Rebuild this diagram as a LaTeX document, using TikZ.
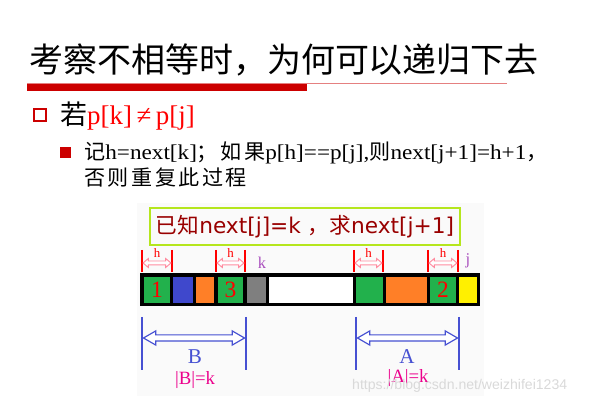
\documentclass[tikz,border=0pt]{standalone}
\usepackage{fontspec}
\setmainfont{Liberation Serif}
\newfontfamily\cjk{Noto Sans CJK SC}
\newfontfamily\cjkwide[LetterSpace=12]{Noto Sans CJK SC}
\newfontfamily\subserif[FakeStretch=1.1]{Liberation Serif}
\newfontfamily\boxfont{DejaVu Sans}
\newfontfamily\markfont{Liberation Sans}
\usetikzlibrary{shapes.arrows, calc}

\definecolor{titlered}{RGB}{204,0,0}
\definecolor{cellgreen}{RGB}{34,177,76}
\definecolor{cellblue}{RGB}{63,72,204}
\definecolor{cellorange}{RGB}{255,127,39}
\definecolor{cellgray}{RGB}{127,127,127}
\definecolor{cellyellow}{RGB}{255,240,0}
\definecolor{boxgreen}{RGB}{181,230,29}
\definecolor{darkred}{RGB}{153,0,0}
\definecolor{hpink}{RGB}{255,140,160}
\definecolor{kpurple}{RGB}{170,80,190}
\definecolor{spanblue}{RGB}{70,80,210}

\begin{document}
\begin{tikzpicture}[x=0.03cm, y=-0.03cm,
  % Text styles
  title/.style={font=\cjk\fontsize{29}{32}\selectfont, anchor=west, inner sep=0pt},
  bodytext/.style={font=\fontsize{23}{26}\selectfont, anchor=west, inner sep=0pt},
  subtext/.style={font=\subserif\fontsize{18}{22}\selectfont, anchor=north west, inner sep=0pt, align=left},
  % Cell styles
  cell/.style={rectangle, inner sep=0pt, minimum height=26*0.03cm,
    font=\fontsize{20}{20}\selectfont, text=red},
  % Marker styles
  htick/.style={draw=red, line width=1pt},
  harrow/.style={double arrow, draw=hpink, fill=white, line width=0.8pt,
    inner xsep=0pt, inner ysep=1.5*0.03cm, double arrow head extend=2.5*0.03cm,
    double arrow tip angle=80},
  hlbl/.style={font=\fontsize{11}{11}\selectfont, text=red, inner sep=0pt},
  spantick/.style={draw=spanblue, line width=1.2pt},
  spanarrow/.style={double arrow, draw=spanblue, fill=white, line width=1pt,
    inner xsep=0pt, inner ysep=2.5*0.03cm, double arrow head extend=4*0.03cm,
    double arrow tip angle=60},
  spanlbl/.style={font=\fontsize{18}{18}\selectfont, text=spanblue, inner sep=0pt},
  sizelbl/.style={font=\fontsize{16}{16}\selectfont, text=magenta, inner sep=0pt},
]
\useasboundingbox (0,0) rectangle (607,402);

% Title
\node[title] (title) at (29,60) {考察不相等时，为何可以递归下去};
\draw[titlered!50, line width=0.7pt] (27,83.5) -- (507,83.5);
\fill[titlered] (27,84) rectangle (307,91.5);

% First bullet
\node[draw=titlered, line width=1.8pt, minimum size=12*0.03cm, inner sep=0pt] (b1) at (40,115) {};
\node[bodytext] (cond) at (60,116) {{\cjk 若}\textcolor{red}{p[k]\,≠\,p[j]}};

% Second bullet
\node[fill=titlered, minimum size=11*0.03cm, inner sep=0pt] (b2) at (65.5,153) {};
\node[subtext] (rule) at (84,142)
  {{\cjkwide 记}h=next[k]{\cjkwide ；如果}p[h]==p[j],{\cjkwide 则}next[j+1]=h+1{\cjkwide ，}\\
   {\cjkwide 否则重复此过程}};

% Light panel behind the figure
\fill[gray!4] (137,203) rectangle (484,396);

% Known / wanted box
\node[draw=boxgreen, line width=1.6pt, minimum width=310*0.03cm, minimum height=37*0.03cm,
  text=darkred, font=\fontsize{18.5}{18.5}\selectfont] (given) at (305,226.5)
  {{\cjk 已知}{\boxfont next[j]=k }{\cjk ，求}{\boxfont next[j+1]}};

% String p
\fill[black] (140,273.5) rectangle (480,306.5);
\node[cell, fill=cellgreen, minimum width=26*0.03cm] (c1) at (157,290) {1};
\node[cell, fill=cellblue, minimum width=20*0.03cm] (c2) at (183,290) {};
\node[cell, fill=cellorange, minimum width=18*0.03cm] (c3) at (205,290) {};
\node[cell, fill=cellgreen, minimum width=25*0.03cm] (c4) at (230.5,290) {3};
\node[cell, fill=cellgray, minimum width=19*0.03cm] (c5) at (256.5,290) {};
\node[cell, fill=white, minimum width=84*0.03cm] (c6) at (311,290) {};
\node[cell, fill=cellgreen, minimum width=27*0.03cm] (c7) at (369.5,290) {};
\node[cell, fill=cellorange, minimum width=41*0.03cm] (c8) at (406.5,290) {};
\node[cell, fill=cellgreen, minimum width=26*0.03cm] (c9) at (443,290) {2};
\node[cell, fill=cellyellow, minimum width=18*0.03cm] (c10) at (468,290) {};

% h markers
\foreach \n/\a/\b in {h1/142/172, h2/216/245, h3/354/383, h4/428/458} {
  \coordinate (\n l) at (\a,263);
  \coordinate (\n r) at (\b,263);
  \draw[htick] (\a,250) -- (\a,272);
  \draw[htick] (\b,250) -- (\b,272);
  \node[harrow, minimum height={(\b-\a-2)*0.03cm}] (\n) at ($(\n l)!0.5!(\n r)$) {};
  \node[hlbl] at ([yshift=10*0.03cm]\n) {h};
}
\node[font=\fontsize{14}{14}\selectfont, text=kpurple] (k) at (262,263) {k};
\node[font=\fontsize{14}{14}\selectfont, text=kpurple] (j) at (468,261) {j};

% Spans B and A
\foreach \n/\a/\b in {B/142/246, A/356/459} {
  \coordinate (\n l) at (\a,338);
  \coordinate (\n r) at (\b,338);
  \draw[spantick] (\a,317) -- (\a,370);
  \draw[spantick] (\b,317) -- (\b,370);
  \node[spanarrow, minimum height={(\b-\a-3)*0.03cm}] (\n arr) at ($(\n l)!0.5!(\n r)$) {};
}
\node[spanlbl] (Blbl) at (195,357) {B};
\node[sizelbl] (Bsize) at (195,380) {|B|=k};
\node[spanlbl] (Albl) at (407,357) {A};
\node[sizelbl] (Asize) at (408,378) {|A|=k};

% Watermark
\node[font=\markfont\fontsize{12}{12}\selectfont, text=gray!30, anchor=west, inner sep=0pt]
  (mark) at (352,386) {https://blog.csdn.net/weizhifei1234};

\end{tikzpicture}
\end{document}
